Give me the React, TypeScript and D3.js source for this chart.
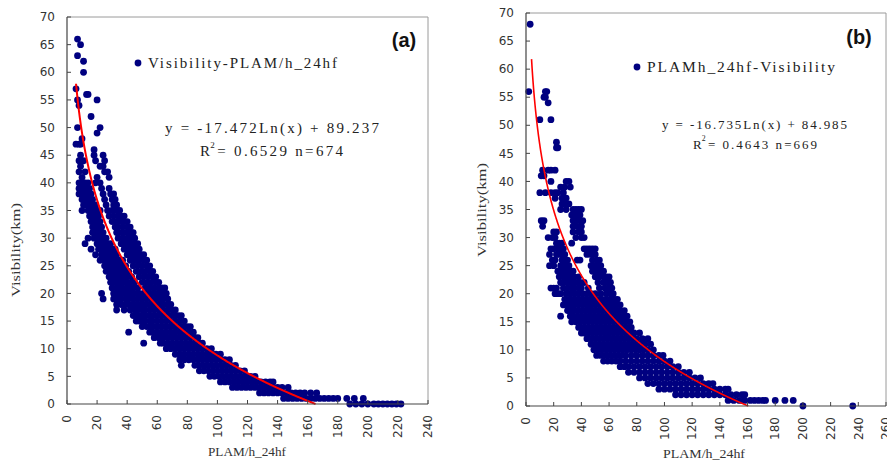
import React from 'react';
import * as d3 from 'd3';

const W = 887;
const H = 463;

// Panel (a): rows of [visibility (km), PLAM/h_24hf values]
const visRowsA: [number, number[]][] = [
  [66, [7]], [65, [9]], [63, [7]], [62, [11]], [60, [11]], [57, [6]], [56, [13, 14]],
  [55, [7, 20]], [54, [8]], [52, [16]], [50, [7, 22]], [49, [20]], [48, [10]],
  [47, [6, 8, 9]], [46, [18]], [45, [9, 18, 24]], [44, [8, 11, 19, 25]], [43, [9, 22, 24]],
  [42, [8, 12, 25, 27]], [41, [10, 20, 28]],
  [40, [8, 9, 11, 12, 14, 19, 22]],
  [39, [8, 10, 12, 13, 15, 23, 28]],
  [38, [8, 9, 11, 13, 14, 16, 24, 29, 31]],
  [37, [10, 12, 14, 15, 17, 25, 30, 32]],
  [36, [11, 13, 15, 17, 19, 26, 31, 33]],
  [35, [10, 14, 16, 18, 20, 22, 27, 30, 33, 35]],
  [34, [15, 17, 19, 21, 28, 31, 34, 36, 38]],
  [33, [16, 18, 20, 22, 30, 33, 36, 38, 40]],
  [32, [17, 19, 21, 23, 32, 34, 37, 40, 42]],
  [31, [17, 19, 22, 24, 33, 35, 38, 41, 43, 44]],
  [30, [14, 18, 20, 22, 24, 26, 34, 37, 40, 42, 45]],
  [29, [12, 20, 22, 25, 27, 29, 36, 39, 42, 45, 47]],
  [28, [16, 21, 23, 25, 28, 30, 32, 38, 41, 44, 46, 48]],
  [27, [19, 23, 25, 27, 29, 31, 33, 40, 43, 46, 49, 51]],
  [26, [22, 25, 27, 29, 31, 33, 35, 37, 42, 45, 48, 51, 53]],
  [25, [25, 27, 29, 31, 33, 35, 37, 39, 44, 47, 50, 53, 55]],
  [24, [26, 28, 30, 32, 34, 36, 38, 41, 46, 49, 52, 55, 57]],
  [23, [28, 30, 32, 34, 36, 38, 40, 43, 48, 51, 54, 57, 59]],
  [22, [29, 31, 33, 35, 37, 40, 42, 45, 50, 53, 56, 59, 61]],
  [21, [30, 33, 35, 37, 40, 42, 44, 47, 52, 55, 58, 61, 63, 65]],
  [20, [23, 31, 33, 35, 38, 40, 43, 45, 48, 51, 54, 57, 60, 62, 64, 66]],
  [19, [24, 31, 34, 36, 39, 41, 44, 47, 50, 53, 56, 59, 62, 64, 67]],
  [18, [33, 36, 39, 41, 44, 46, 49, 52, 55, 58, 61, 64, 67, 69]],
  [17, [33, 38, 42, 45, 47, 50, 52, 55, 58, 61, 64, 67, 70, 72]],
  [16, [44, 46, 48, 51, 53, 56, 59, 62, 65, 68, 71, 74, 76]],
  [15, [46, 48, 50, 52, 55, 57, 60, 63, 66, 69, 72, 75, 78]],
  [14, [50, 53, 56, 59, 62, 65, 68, 71, 74, 77, 80, 82]],
  [13, [41, 55, 57, 60, 63, 66, 69, 72, 75, 78, 81, 84]],
  [12, [58, 61, 64, 67, 70, 73, 76, 79, 82, 85, 87]],
  [11, [51, 62, 64, 67, 70, 73, 76, 79, 82, 85, 88, 90]],
  [10, [66, 69, 72, 75, 78, 81, 84, 87, 90, 93, 96]],
  [9, [72, 75, 78, 81, 84, 87, 90, 93, 96, 99, 102]],
  [8, [75, 78, 81, 84, 87, 90, 93, 96, 99, 102, 105, 108]],
  [7, [76, 85, 88, 91, 94, 97, 100, 103, 106, 109, 112]],
  [6, [88, 91, 94, 97, 100, 103, 106, 109, 112, 115, 118]],
  [5, [95, 98, 101, 104, 107, 110, 113, 116, 119, 122, 125]],
  [4, [102, 105, 108, 111, 114, 117, 120, 123, 126, 129, 132, 135, 137]],
  [3, [110, 113, 116, 119, 122, 125, 128, 131, 134, 137, 140, 143, 147]],
  [2, [128, 131, 134, 137, 140, 143, 146, 149, 152, 155, 158, 162, 166]],
  [1, [144, 147, 150, 153, 156, 159, 162, 165, 168, 171, 174, 177, 180, 186, 191, 197]],
  [0, [188, 192, 196, 200, 204, 207, 210, 213, 216, 219, 222]],
];

// Panel (b): rows of [visibility (km), PLAM/h_24hf values]
const visRowsB: [number, number[]][] = [
  [68, [3]], [56, [2, 14, 15]], [55, [13, 14]], [54, [16]], [51, [10, 18]], [47, [22]],
  [46, [22, 23]], [42, [12, 16, 18, 21]], [41, [11, 13]], [40, [18, 29, 31]],
  [39, [25, 28, 32]], [38, [10, 14, 18, 21, 23, 27]], [37, [21, 26, 29]], [36, [26, 28, 31]],
  [35, [25, 29, 34, 36, 38, 40]], [34, [33, 35, 37, 39]], [33, [11, 13, 34, 36, 39, 41]],
  [32, [12, 34, 37, 40]], [31, [20, 22, 34, 38, 40]], [30, [16, 19, 21, 36, 40, 42]],
  [29, [22, 24, 26, 33]],
  [28, [18, 20, 23, 25, 27, 42, 44, 46, 48, 50]],
  [27, [17, 22, 24, 26, 28, 44, 47, 50]],
  [26, [19, 21, 26, 28, 30, 37, 39, 48, 51, 53]],
  [25, [17, 20, 25, 27, 29, 31, 47, 49, 52, 54]],
  [24, [23, 26, 28, 30, 32, 34, 48, 51, 54, 56]],
  [23, [24, 27, 29, 31, 33, 35, 38, 50, 53, 56, 58, 60]],
  [22, [25, 27, 30, 32, 34, 36, 39, 42, 52, 56, 59, 61]],
  [21, [18, 20, 22, 27, 30, 33, 35, 38, 40, 45, 53, 57, 60, 62]],
  [20, [21, 23, 25, 29, 32, 35, 38, 41, 44, 47, 50, 54, 58, 61, 63]],
  [19, [28, 31, 34, 37, 40, 43, 46, 49, 52, 55, 58, 61, 64, 66]],
  [18, [27, 30, 33, 35, 38, 41, 44, 47, 50, 53, 56, 59, 62, 65, 68]],
  [17, [30, 32, 35, 38, 41, 44, 47, 50, 53, 56, 59, 62, 65, 68, 71]],
  [16, [25, 32, 34, 37, 40, 43, 46, 49, 52, 55, 58, 61, 64, 67, 70, 73]],
  [15, [33, 36, 39, 42, 45, 48, 51, 54, 57, 60, 63, 66, 69, 72, 75]],
  [14, [38, 40, 43, 46, 49, 52, 55, 58, 61, 64, 67, 70, 73, 76]],
  [13, [40, 42, 45, 48, 51, 54, 57, 60, 63, 66, 69, 72, 75, 78, 82]],
  [12, [44, 47, 50, 53, 56, 59, 62, 65, 68, 71, 74, 77, 80, 84, 88]],
  [11, [47, 50, 53, 56, 59, 62, 65, 68, 71, 74, 77, 80, 83, 86, 90]],
  [10, [49, 52, 55, 58, 61, 64, 67, 70, 73, 76, 79, 82, 85, 88, 92]],
  [9, [51, 54, 57, 60, 63, 66, 69, 72, 76, 80, 84, 88, 92, 96, 99]],
  [8, [56, 59, 62, 65, 68, 72, 76, 80, 84, 88, 92, 96, 100, 104]],
  [7, [68, 71, 74, 78, 82, 86, 90, 94, 98, 102, 106, 110]],
  [6, [74, 78, 82, 86, 90, 94, 98, 102, 106, 110, 114, 118]],
  [5, [82, 86, 90, 94, 98, 102, 106, 110, 114, 118, 122, 126]],
  [4, [88, 92, 96, 100, 104, 108, 112, 116, 120, 124, 128, 132, 135]],
  [3, [96, 100, 104, 108, 112, 116, 120, 124, 128, 132, 136, 140, 144, 146]],
  [2, [108, 112, 116, 120, 124, 128, 132, 136, 140, 144, 148, 152, 156, 158]],
  [1, [146, 150, 154, 158, 162, 165, 168, 171, 173, 180, 187, 193]],
  [0, [200, 236]],
];

const yTicks = d3.range(0, 71, 5);
const xTicksA = d3.range(0, 241, 20);
const xTicksB = d3.range(0, 261, 20);

const fitA = { a: -17.472, b: 89.237, start: 6.0 };
const fitB = { a: -16.735, b: 84.985, start: 4.0 };

const NAVY = '#000080';
const TICK_FONT = '"DejaVu Sans", Arial, sans-serif';
const SERIF = '"Liberation Serif", "DejaVu Serif", serif';

type TextBox = { text: string; x: number; y: number; size: number; len: number };

type PanelProps = {
  rows: [number, number[]][];
  xMax: number;
  xTicks: number[];
  left: number; right: number; top: number; bottom: number;
  fit: { a: number; b: number; start: number };
  lineW: number;
  legend: TextBox;
  eq1: TextBox;
  eq2: TextBox;
  label: string; labelX: number; labelY: number;
  xTitle: TextBox;
  yTitle: TextBox;
};

function Panel(p: PanelProps) {
  const x = d3.scaleLinear().domain([0, p.xMax]).range([p.left, p.right]);
  const y = d3.scaleLinear().domain([0, 70]).range([p.bottom, p.top]);
  const pts = p.rows.flatMap(([v, xs]) => xs.map((xv) => [xv, v] as [number, number]));
  const xEnd = Math.exp(-p.fit.b / p.fit.a);
  const xs = d3.range(p.fit.start, xEnd, 0.25).concat([xEnd]);
  const line = d3
    .line<number>()
    .x((d) => x(d))
    .y((d) => y(p.fit.a * Math.log(d) + p.fit.b));
  const supW = p.eq2.size * 1.15;
  return (
    <g>
      {/* frame */}
      <line x1={p.left} x2={p.right} y1={p.top} y2={p.top} stroke="#9a9a9a" strokeWidth={1} />
      <line x1={p.right} x2={p.right} y1={p.top} y2={p.bottom} stroke="#9a9a9a" strokeWidth={1} />
      {/* points */}
      {pts.map((d, i) => (
        <circle key={i} cx={x(d[0])} cy={y(d[1])} r={3.4} fill={NAVY} />
      ))}
      {/* trend line */}
      <path d={line(xs) || ''} fill="none" stroke="#ff0000" strokeWidth={p.lineW} />
      {/* axes */}
      <line x1={p.left} x2={p.left} y1={p.top} y2={p.bottom} stroke="#444" strokeWidth={1.2} />
      <line x1={p.left} x2={p.right} y1={p.bottom} y2={p.bottom} stroke="#444" strokeWidth={1.2} />
      {yTicks.map((t) => (
        <g key={'y' + t}>
          <line x1={p.left} x2={p.left + 4} y1={y(t)} y2={y(t)} stroke="#444" />
          <text x={p.left - 12} y={y(t)} dy="0.35em" textAnchor="end" fontFamily={TICK_FONT} fontSize={12} fill="#333">
            {t}
          </text>
        </g>
      ))}
      {p.xTicks.map((t) => (
        <g key={'x' + t}>
          <line x1={x(t)} x2={x(t)} y1={p.bottom} y2={p.bottom - 4} stroke="#444" />
          <text
            transform={`translate(${x(t)},${p.bottom + 11}) rotate(-90)`}
            dy="0.35em"
            textAnchor="end"
            fontFamily={TICK_FONT}
            fontSize={12}
            fill="#333"
          >
            {t}
          </text>
        </g>
      ))}
      {/* titles */}
      <text
        x={p.xTitle.x}
        y={p.xTitle.y}
        dy="0.35em"
        fontFamily={SERIF}
        fontSize={p.xTitle.size}
        fill="#333"
        textLength={p.xTitle.len}
        lengthAdjust="spacingAndGlyphs"
      >
        {p.xTitle.text}
      </text>
      <text
        transform={`translate(${p.yTitle.x},${p.yTitle.y}) rotate(-90)`}
        dy="0.35em"
        fontFamily={SERIF}
        fontSize={p.yTitle.size}
        fill="#333"
        textLength={p.yTitle.len}
        lengthAdjust="spacingAndGlyphs"
      >
        {p.yTitle.text}
      </text>
      {/* legend */}
      <circle cx={p.legend.x - 10} cy={p.legend.y} r={3.4} fill={NAVY} />
      <text
        x={p.legend.x}
        y={p.legend.y}
        dy="0.35em"
        fontFamily={SERIF}
        fontSize={p.legend.size}
        fill="#222"
        textLength={p.legend.len}
        lengthAdjust="spacing"
      >
        {p.legend.text}
      </text>
      {/* equation */}
      <text
        x={p.eq1.x}
        y={p.eq1.y}
        dy="0.35em"
        fontFamily={SERIF}
        fontSize={p.eq1.size}
        fill="#222"
        textLength={p.eq1.len}
        lengthAdjust="spacing"
      >
        {p.eq1.text}
      </text>
      <text x={p.eq2.x} y={p.eq2.y} dy="0.35em" fontFamily={SERIF} fontSize={p.eq2.size} fill="#222">
        R
      </text>
      <text x={p.eq2.x + p.eq2.size * 0.68} y={p.eq2.y - p.eq2.size * 0.42} dy="0.35em" fontFamily={SERIF} fontSize={p.eq2.size * 0.6} fill="#222">
        2
      </text>
      <text
        x={p.eq2.x + supW}
        y={p.eq2.y}
        dy="0.35em"
        fontFamily={SERIF}
        fontSize={p.eq2.size}
        fill="#222"
        textLength={p.eq2.len - supW}
        lengthAdjust="spacing"
      >
        {p.eq2.text}
      </text>
      <text x={p.labelX} y={p.labelY} dy="0.35em" textAnchor="middle" fontFamily='"Liberation Sans", Arial, sans-serif' fontSize={20} fontWeight="bold" fill="#111">
        {p.label}
      </text>
    </g>
  );
}

export default function App() {
  return (
    <svg
      width={W}
      height={H}
      viewBox={`0 0 ${W} ${H}`}
      style={{ position: 'absolute', left: 0, top: 0, background: '#fff' }}
    >
      <rect x={0} y={0} width={W} height={H} fill="#fff" />
      <Panel
        rows={visRowsA}
        xMax={240}
        xTicks={xTicksA}
        left={67}
        right={428}
        top={17}
        bottom={404}
        fit={fitA}
        lineW={2}
        legend={{ text: 'Visibility-PLAM/h_24hf', x: 148, y: 63, size: 15, len: 189 }}
        eq1={{ text: 'y = -17.472Ln(x) + 89.237', x: 165, y: 128, size: 15, len: 214 }}
        eq2={{ text: '= 0.6529 n=674', x: 200, y: 151, size: 15, len: 143 }}
        label="(a)"
        labelX={404}
        labelY={40}
        xTitle={{ text: 'PLAM/h_24hf', x: 208, y: 451, size: 13, len: 78 }}
        yTitle={{ text: 'Visibility(km)', x: 16, y: 297, size: 12.5, len: 94 }}
      />
      <Panel
        rows={visRowsB}
        xMax={260}
        xTicks={xTicksB}
        left={526}
        right={886}
        top={13}
        bottom={406}
        fit={fitB}
        lineW={1.6}
        legend={{ text: 'PLAMh_24hf-Visibility', x: 647, y: 67, size: 15.5, len: 188 }}
        eq1={{ text: 'y = -16.735Ln(x) + 84.985', x: 662, y: 124, size: 13, len: 185 }}
        eq2={{ text: '= 0.4643 n=669', x: 693, y: 144, size: 13, len: 124 }}
        label="(b)"
        labelX={859}
        labelY={37}
        xTitle={{ text: 'PLAM/h_24hf', x: 663, y: 453, size: 13, len: 82 }}
        yTitle={{ text: 'Visibility(km)', x: 482, y: 257, size: 12.5, len: 94 }}
      />
    </svg>
  );
}
